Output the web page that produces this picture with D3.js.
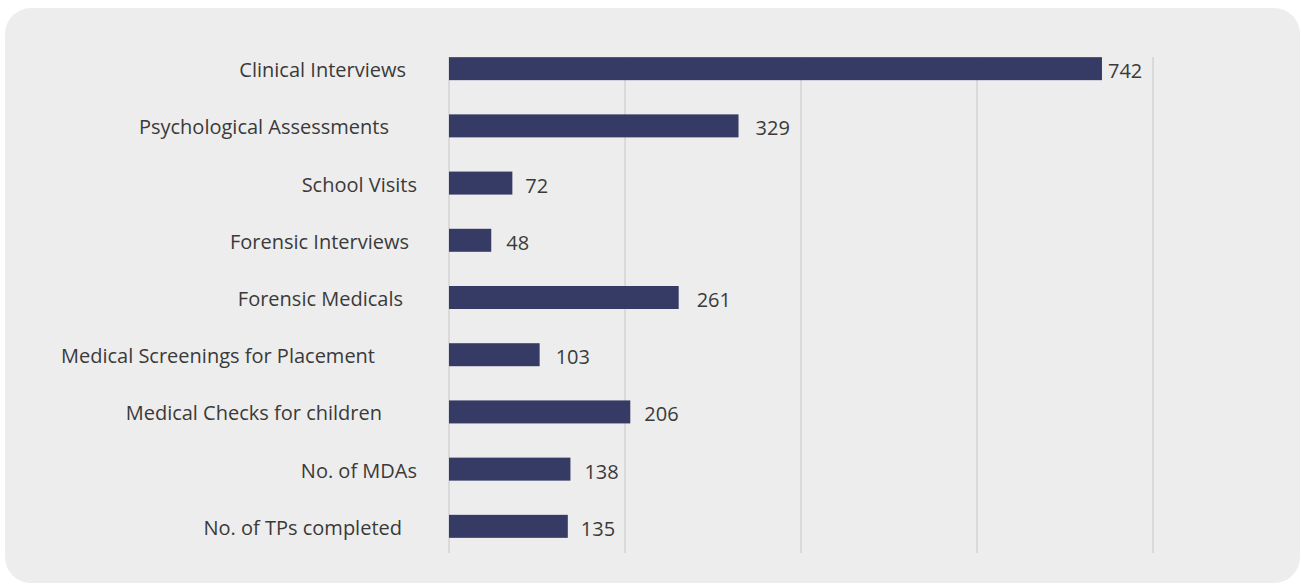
<!DOCTYPE html>
<html>
<head>
<meta charset="utf-8">
<script src="https://cdn.jsdelivr.net/npm/d3@7"></script>
<style>
  html, body { margin: 0; padding: 0; background: #ffffff; }
  svg { display: block; }
</style>
</head>
<body>
<svg id="chart" width="1301" height="584"></svg>
<script>
// Service counts by activity
const categories = [
  "Clinical Interviews",
  "Psychological Assessments",
  "School Visits",
  "Forensic Interviews",
  "Forensic Medicals",
  "Medical Screenings for Placement",
  "Medical Checks for children",
  "No. of MDAs",
  "No. of TPs completed"
];
const values = [742, 329, 72, 48, 261, 103, 206, 138, 135];
const gridTicks = [0, 200, 400, 600, 800];

// Layout: space between each category label and the axis, and between bar end and value label
const labelGap = [43, 60, 32, 40, 46, 74, 67, 32, 47];
const valueGap = [6, 17, 13, 15, 18, 16, 14, 14, 13];

const width = 1301, height = 584;
const svg = d3.select("#chart");

// panel background
svg.append("rect")
  .attr("x", 5).attr("y", 8)
  .attr("width", 1295).attr("height", 575)
  .attr("rx", 26).attr("ry", 26)
  .attr("fill", "#ededed");

const x = d3.scaleLinear().domain([0, 800]).range([449, 1153]);
const y = d3.scaleBand().domain(categories).range([40, 555]).paddingInner(0.598).paddingOuter(0.3);

// vertical gridlines
svg.append("g")
  .selectAll("line")
  .data(gridTicks)
  .join("line")
  .attr("x1", d => x(d)).attr("x2", d => x(d))
  .attr("y1", 57).attr("y2", 553)
  .attr("stroke", "#dadada")
  .attr("stroke-width", 2);

const rows = categories.map((c, i) => ({ cat: c, val: values[i], i }));

// bars
svg.append("g")
  .selectAll("rect")
  .data(rows)
  .join("rect")
  .attr("x", x(0))
  .attr("y", d => y(d.cat))
  .attr("width", d => x(d.val) - x(0))
  .attr("height", y.bandwidth())
  .attr("fill", "#353b64");

const font = "'Open Sans', 'Noto Sans', sans-serif";

// category labels
svg.append("g")
  .selectAll("text")
  .data(rows)
  .join("text")
  .attr("x", d => x(0) - labelGap[d.i])
  .attr("y", d => y(d.cat) + y.bandwidth() / 2 + 1)
  .attr("text-anchor", "end")
  .attr("dominant-baseline", "central")
  .attr("font-family", font)
  .attr("font-size", 20)
  .attr("fill", "#3a3a3a")
  .text(d => d.cat);

// value labels
svg.append("g")
  .selectAll("text")
  .data(rows)
  .join("text")
  .attr("x", d => x(d.val) + valueGap[d.i])
  .attr("y", d => y(d.cat) + y.bandwidth() / 2 + 2)
  .attr("text-anchor", "start")
  .attr("dominant-baseline", "central")
  .attr("font-family", font)
  .attr("font-size", 20)
  .attr("fill", "#3a3a3a")
  .text(d => d.val);
</script>
</body>
</html>
